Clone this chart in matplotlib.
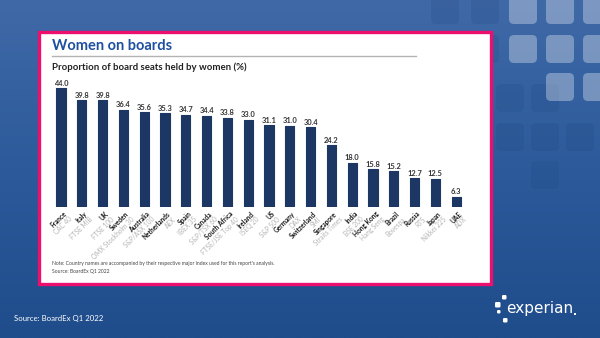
import numpy as np
import matplotlib.pyplot as plt
from matplotlib.patches import FancyBboxPatch, Rectangle
from matplotlib.colors import LinearSegmentedColormap

plt.rcParams['font.family'] = ['Lato', 'DejaVu Sans']

# data
countries = ['France', 'Italy', 'UK', 'Sweden', 'Australia', 'Netherlands', 'Spain',
             'Canada', 'South Africa', 'Ireland', 'US', 'Germany', 'Switzerland',
             'Singapore', 'India', 'Hong Kong', 'Brazil', 'Russia', 'Japan', 'UAE']
indices = ['CAC 40', 'FTSE MIB', 'FTSE 100', 'OMX Stockholm 30', 'S&P/ASX 100', 'AEX',
           'IBEX 35', 'S&P/TSX 60', 'FTSE/JSE Top 40', 'ISEQ 20', 'S&P 500', 'DAX', 'SMI',
           'Straits Times', 'BSE 200', 'Hang Seng', 'Bovespa', 'RTS', 'Nikkei 225', 'ADX']
share = [44.0, 39.8, 39.8, 36.4, 35.6, 35.3, 34.7, 34.4, 33.8, 33.0,
         31.1, 31.0, 30.4, 24.2, 18.0, 15.8, 15.2, 12.7, 12.5, 6.3]

W, H = 600, 338
BAR = '#1c3764'
PINK = '#ec0f6e'


def fx(x):
    return x / W


def fy(y):
    return 1 - y / H


fig = plt.figure(figsize=(W / 100, H / 100), dpi=100)

# blue background with gradient
bg = fig.add_axes([0, 0, 1, 1])
bg.set_xlim(0, W)
bg.set_ylim(H, 0)
bg.axis('off')
grad = np.linspace(0, 1, 256).reshape(-1, 1)
cm = LinearSegmentedColormap.from_list('bgc', ['#4069a7', '#2c5a9a', '#1f4c8b'])
bg.imshow(grad, cmap=cm, extent=[0, W, H, 0], aspect='auto', zorder=0)

# decorative rounded squares top right
light = [(508, -5), (545, -5), (582, -5), (508, 34), (545, 34), (582, 34), (545, 72), (582, 72)]
dark = [(430, -5), (470, -5), (470, 34), (495, 83), (530, 83), (495, 122), (530, 122),
        (565, 122), (530, 160)]
for (x0, y0) in dark:
    bg.add_patch(FancyBboxPatch((x0 + 1, y0 + 1), 28, 28, boxstyle='round,pad=0,rounding_size=5',
                                fc='#1d4682', ec='none', alpha=0.2, zorder=1))
for (x0, y0) in light:
    bg.add_patch(FancyBboxPatch((x0 + 1, y0 + 1), 28, 28, boxstyle='round,pad=0,rounding_size=5',
                                fc='white', ec='none', alpha=0.32, zorder=1))

# white panel with pink border
bg.add_patch(Rectangle((38.7, 31.7), 452.3, 252.6, fc='white', ec=PINK, lw=2.4, zorder=2))
bg.plot([52, 416], [55.5, 55.5], color='#b3b3b3', lw=1, zorder=3)

fig.text(fx(52), fy(45.5), 'Women on boards', fontsize=10.5, fontweight='bold',
         color='#1e4fa0', va='center', ha='left')
fig.text(fx(52), fy(67.5), 'Proportion of board seats held by women (%)', fontsize=6.9,
         fontweight='bold', color='#222222', va='center', ha='left')

# bar chart
left, right = 50.6, 466.6
top, bottom = 80, 206.7
ax = fig.add_axes([fx(left), fy(bottom), (right - left) / W, (bottom - top) / H])
ax.set_facecolor('none')
x = np.arange(len(countries))
ax.bar(x, share, width=0.44, color=BAR, edgecolor=BAR, linewidth=0.8, joinstyle='round')
ax.set_xlim(-0.5, len(countries) - 0.5)
ax.set_ylim(2.87, 46.87)
ax.axis('off')

for i, v in enumerate(share):
    ax.annotate(f'{v:.1f}', (i, v), xytext=(0, 1.2), textcoords='offset points',
                ha='center', va='bottom', fontsize=5.4, fontweight='bold', color='#333333')
    ax.annotate(countries[i], (i, 0), xycoords=('data', 'axes fraction'),
                xytext=(1.5, -2.5), textcoords='offset points', rotation=45,
                rotation_mode='anchor', ha='right', va='top', fontsize=4.7,
                fontweight='bold', color='#1a1a1a')
    ax.annotate(indices[i], (i, 0), xycoords=('data', 'axes fraction'),
                xytext=(5.4, -6.4), textcoords='offset points', rotation=45,
                rotation_mode='anchor', ha='right', va='top', fontsize=4.7,
                color='#b4b4b4')

fig.text(fx(52), fy(263.5),
         "Note: Country names are accompanied by their respective major index used for this report's analysis.",
         fontsize=3.6, color='#444444', va='center', ha='left')
fig.text(fx(52), fy(271), 'Source: BoardEx Q1 2022', fontsize=3.6, color='#444444',
         va='center', ha='left')

# footer
fig.text(fx(14), fy(318.5), 'Source: BoardEx Q1 2022', fontsize=5.6, color='white',
         va='center', ha='left')

# experian logo
fig.text(fx(506), fy(308), 'experian', fontsize=11, color='white', va='center', ha='left',
         family='DejaVu Sans')
bg.add_patch(Rectangle((574, 313), 1.6, 1.6, fc='white', ec='none', zorder=3))
for (x0, y0, s) in [(495, 302, 5.5), (502, 295, 4.5), (497, 310, 3.5), (503, 318, 4.5)]:
    bg.add_patch(FancyBboxPatch((x0, y0), s, s, boxstyle='round,pad=0,rounding_size=1.2',
                                fc='white', ec='none', zorder=3))

fig.savefig('out.png', dpi=100)
